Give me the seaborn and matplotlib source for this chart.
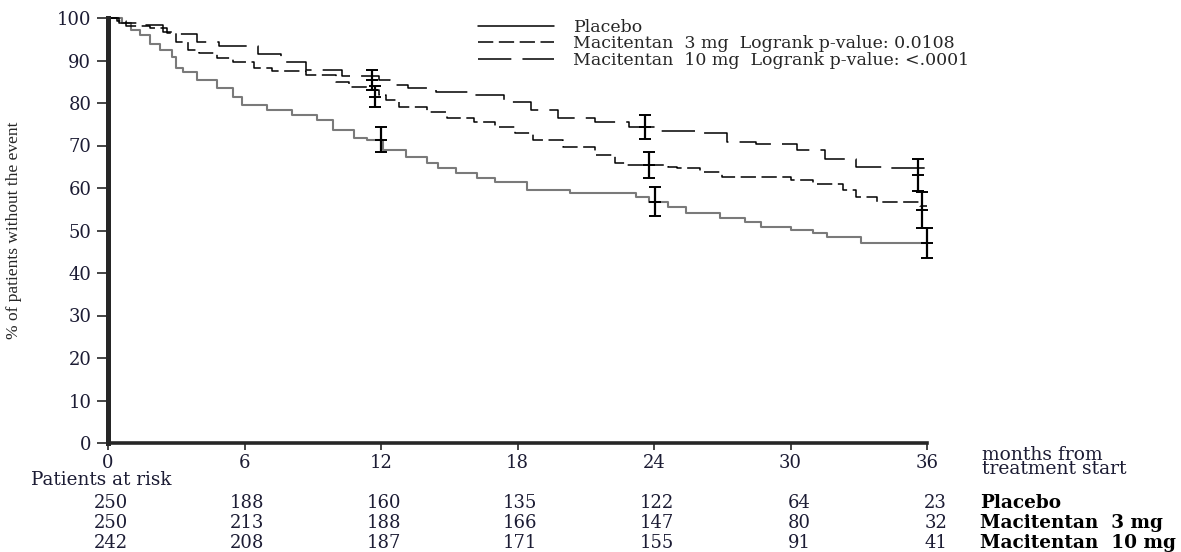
import matplotlib
matplotlib.use("Agg")
import matplotlib.pyplot as plt
import matplotlib.transforms as mtransforms
from matplotlib.lines import Line2D
import pandas as pd
import seaborn as sns

# Kaplan-Meier steps (months, % without event)
placebo_t = [0, 0.6, 1.0, 1.4, 1.85, 2.3, 2.8, 3.0, 3.3, 3.9, 4.8, 5.5, 5.9, 7.0, 8.1,
             9.2, 9.9, 10.8, 11.4, 12.1, 13.1, 14.0, 14.5, 15.3, 16.2, 17.0, 18.4,
             20.3, 23.2, 23.8, 24.6, 25.4, 26.9, 28.0, 28.7, 30.0, 31.0, 31.6, 33.1, 36.0]
placebo_s = [100, 98.8, 97.2, 96.0, 94.0, 92.5, 90.9, 88.2, 87.3, 85.4, 83.5, 81.5, 79.5,
             78.4, 77.2, 76.0, 73.6, 71.8, 71.2, 68.9, 67.3, 65.9, 64.7, 63.5, 62.4, 61.4,
             59.5, 58.8, 58.0, 56.8, 55.6, 54.1, 52.9, 52.0, 50.8, 50.1, 49.4, 48.4, 47.1, 47.1]

mac3_t = [0, 0.4, 0.8, 1.85, 2.6, 3.0, 3.5, 4.0, 4.8, 5.5, 6.4, 7.2, 8.7, 10.0, 10.6,
          11.4, 11.9, 12.2, 12.8, 14.0, 14.9, 16.1, 17.0, 17.9, 18.7, 20.0, 21.4, 22.3,
          22.8, 24.6, 25.0, 26.0, 27.0, 30.0, 31.0, 32.3, 32.9, 33.8, 35.7, 36.0]
mac3_s = [100, 99.3, 98.1, 97.6, 96.5, 94.4, 92.5, 91.8, 90.6, 89.6, 88.2, 87.5, 86.6,
          85.0, 83.8, 83.0, 81.9, 80.7, 79.1, 77.9, 76.5, 75.5, 74.4, 72.9, 71.3, 69.6,
          67.8, 65.9, 65.4, 65.0, 64.7, 63.8, 62.6, 61.9, 61.0, 59.5, 58.0, 56.7, 55.8, 55.8]

mac10_t = [0, 0.5, 1.5, 2.4, 3.0, 3.9, 4.9, 6.6, 7.6, 8.7, 10.3, 11.9, 12.4, 13.2, 14.4,
           16.1, 17.4, 18.6, 19.8, 21.4, 22.9, 24.3, 25.9, 27.2, 28.5, 30.3, 31.5, 32.9,
           34.3, 35.9, 36.0]
mac10_s = [100, 98.8, 98.3, 96.7, 96.3, 94.4, 93.4, 91.6, 89.6, 87.8, 86.4, 85.4, 84.2,
           83.5, 82.6, 81.9, 80.2, 78.4, 76.5, 75.5, 74.4, 73.4, 72.9, 70.8, 70.3, 68.9,
           66.8, 65.0, 64.7, 63.0, 63.0]

# confidence bars at 12, 24 and 36 months
ci_x = [11.6, 11.75, 12.0, 23.6, 23.8, 24.05, 35.6, 35.8, 36.0]
ci_mid = [85.4, 81.5, 71.3, 74.4, 65.4, 56.8, 63.0, 54.8, 47.1]
ci_lo = [83.0, 79.1, 68.5, 71.5, 62.4, 53.4, 59.3, 50.6, 43.5]
ci_hi = [87.8, 84.0, 74.4, 77.2, 68.5, 60.2, 66.8, 59.1, 50.6]

tick_months = [0, 6, 12, 18, 24, 30, 36]
risk_placebo = [250, 188, 160, 135, 122, 64, 23]
risk_mac3 = [250, 213, 188, 166, 147, 80, 32]
risk_mac10 = [242, 208, 187, 171, 155, 91, 41]

groups = ["Placebo", "Macitentan  3 mg", "Macitentan  10 mg"]
legend_labels = ["Placebo",
                 "Macitentan  3 mg  Logrank p-value: 0.0108",
                 "Macitentan  10 mg  Logrank p-value: <.0001"]

sns.set_style("ticks")
plt.rcParams["lines.scale_dashes"] = False
serif = "DejaVu Serif"
ink = "#1c1c34"

fig = plt.figure(figsize=(11.81, 5.52), dpi=100)
ax = fig.add_axes([108 / 1181, 109 / 552, 819 / 1181, 425 / 552])

styles = [("#7a7a7a", "-", 1.5), ("black", (0, (11, 4)), 1.1), ("black", (0, (24, 8)), 1.1)]
for (t, s), (col, ls, lw) in zip([(placebo_t, placebo_s), (mac3_t, mac3_s), (mac10_t, mac10_s)], styles):
    df = pd.DataFrame({"month": t, "pct": s})
    sns.lineplot(data=df, x="month", y="pct", ax=ax, color=col, linestyle=ls, lw=lw,
                 drawstyle="steps-post", estimator=None, clip_on=False)

yerr = [[m - l for m, l in zip(ci_mid, ci_lo)], [h - m for m, h in zip(ci_mid, ci_hi)]]
eb = ax.errorbar(ci_x, ci_mid, yerr=yerr, fmt="none", ecolor="black", elinewidth=1.6,
                 capsize=4, capthick=1.4)
for part in eb.lines[1] + eb.lines[2]:
    part.set_clip_on(False)
ax.plot(ci_x, ci_mid, ls="none", marker="_", ms=9, mew=1.4, color="black", clip_on=False)

ax.set_xlim(0, 36)
ax.set_ylim(0, 100)
ax.set_xticks(tick_months)
ax.set_yticks(range(0, 101, 10))
ax.set_xlabel("")
ax.set_ylabel("% of patients without the event", family="Liberation Serif", fontsize=12.5)
ax.yaxis.set_label_coords(-0.105, 0.5)
sns.despine(ax=ax)
ax.spines["left"].set_linewidth(3.6)
ax.spines["bottom"].set_linewidth(2.6)
ax.tick_params(axis="y", direction="out", length=8, width=1.2, pad=4, labelsize=13,
               labelcolor=ink)
ax.tick_params(axis="x", direction="out", length=5, width=1.2, pad=3, labelsize=13,
               labelcolor=ink)
for lab in ax.get_xticklabels() + ax.get_yticklabels():
    lab.set_family(serif)

# legend
handles = [Line2D([], [], color="black", lw=1.1, linestyle=st[1]) for st in styles]
ax.legend(handles, legend_labels, loc="upper left", bbox_to_anchor=(478 / 1181, 0.965),
          bbox_transform=fig.transFigure, frameon=False, borderpad=0, borderaxespad=0,
          handlelength=4.4, handletextpad=1.1, labelspacing=-0.05,
          prop={"family": serif, "size": 12.5})

# risk table
base = mtransforms.blended_transform_factory(ax.transData, ax.transAxes)
num_tr = mtransforms.offset_copy(base, fig=fig, x=20, y=0, units="dots")
ax.text(-3.4, -0.087, "Patients at risk", transform=base, family=serif, fontsize=13.2,
        color=ink, va="center", ha="left")
rows_y = [-0.141, -0.188, -0.235]
for row, yy, name in zip([risk_placebo, risk_mac3, risk_mac10], rows_y, groups):
    for m, n in zip(tick_months, row):
        ax.text(m, yy, str(n), transform=num_tr, family=serif, fontsize=13,
                color=ink, ha="right", va="center")
    ax.text(38.35, yy, name, transform=base, family=serif, fontsize=13.3,
            fontweight="bold", color="black", ha="left", va="center")
ax.text(38.4, -0.045, "months from\ntreatment start", transform=base, family=serif,
        fontsize=13.5, color=ink, ha="left", va="center", linespacing=0.74)

fig.savefig("out.png", dpi=100)
